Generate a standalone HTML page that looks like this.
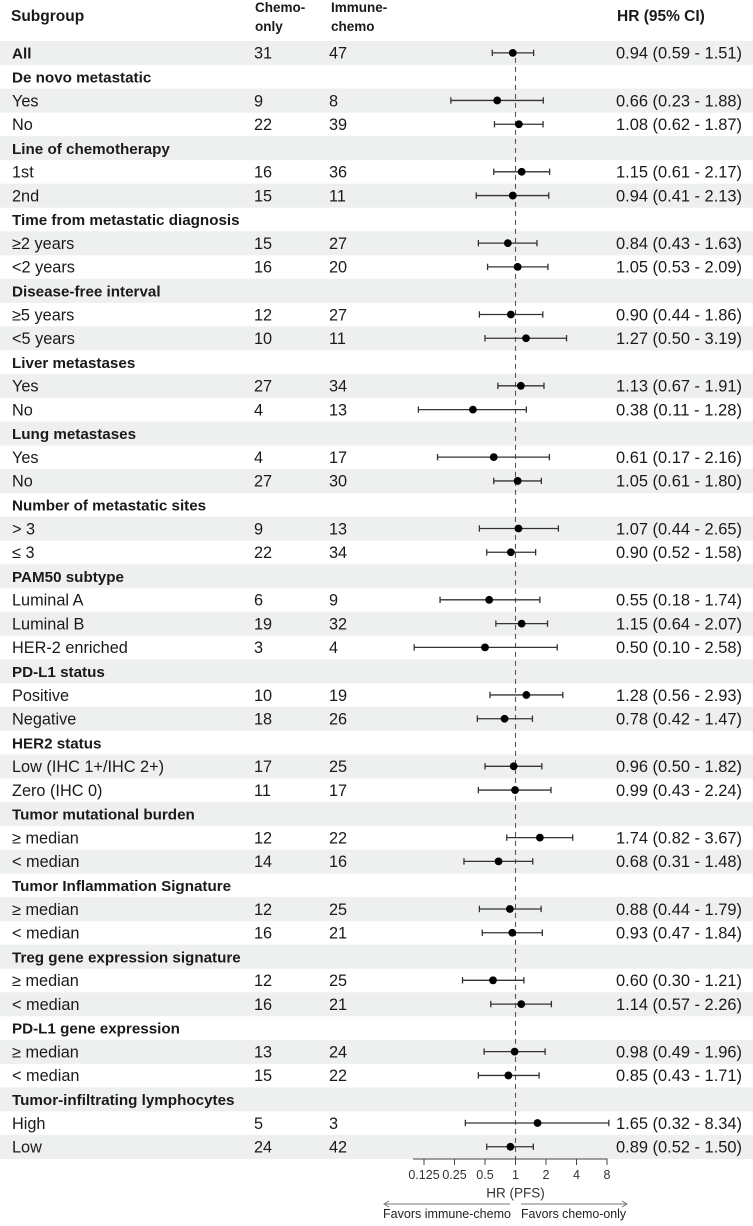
<!DOCTYPE html>
<html><head><meta charset="utf-8">
<style>
html,body{margin:0;padding:0;background:#fff;}
svg text{font-family:"Liberation Sans",Arial,sans-serif;}
</style></head>
<body>
<svg id="chart" width="753" height="1221" viewBox="0 0 753 1221" xmlns="http://www.w3.org/2000/svg">
<g id="stripes"></g>
<g id="header">
<text x="11" y="21" font-size="15.5" font-weight="bold" fill="#1a1a1a">Subgroup</text>
<text x="255" y="12" font-size="13.5" font-weight="bold" fill="#1a1a1a">Chemo-</text>
<text x="255" y="31" font-size="13.5" font-weight="bold" fill="#1a1a1a">only</text>
<text x="331" y="12" font-size="13.5" font-weight="bold" fill="#1a1a1a">Immune-</text>
<text x="331" y="31" font-size="13.5" font-weight="bold" fill="#1a1a1a">chemo</text>
<text x="617" y="21" font-size="15.5" font-weight="bold" fill="#1a1a1a">HR (95% CI)</text>
</g>
<g id="rows"></g>
<g id="axis"></g>
</svg>
<script>
const labels = ["All","De novo metastatic","Yes","No","Line of chemotherapy","1st","2nd","Time from metastatic diagnosis","≥2 years","<2 years","Disease-free interval","≥5 years","<5 years","Liver metastases","Yes","No","Lung metastases","Yes","No","Number of metastatic sites","> 3","≤ 3","PAM50 subtype","Luminal A","Luminal B","HER-2 enriched","PD-L1 status","Positive","Negative","HER2 status","Low (IHC 1+/IHC 2+)","Zero (IHC 0)","Tumor mutational burden","≥ median","< median","Tumor Inflammation Signature","≥ median","< median","Treg gene expression signature","≥ median","< median","PD-L1 gene expression","≥ median","< median","Tumor-infiltrating lymphocytes","High","Low"];
const isHeader = [1,1,0,0,1,0,0,1,0,0,1,0,0,1,0,0,1,0,0,1,0,0,1,0,0,0,1,0,0,1,0,0,1,0,0,1,0,0,1,0,0,1,0,0,1,0,0];
const chemoN = [31,null,9,22,null,16,15,null,15,16,null,12,10,null,27,4,null,4,27,null,9,22,null,6,19,3,null,10,18,null,17,11,null,12,14,null,12,16,null,12,16,null,13,15,null,5,24];
const immuneN = [47,null,8,39,null,36,11,null,27,20,null,27,11,null,34,13,null,17,30,null,13,34,null,9,32,4,null,19,26,null,25,17,null,22,16,null,25,21,null,25,21,null,24,22,null,3,42];
const hr = [0.94,null,0.66,1.08,null,1.15,0.94,null,0.84,1.05,null,0.90,1.27,null,1.13,0.38,null,0.61,1.05,null,1.07,0.90,null,0.55,1.15,0.50,null,1.28,0.78,null,0.96,0.99,null,1.74,0.68,null,0.88,0.93,null,0.60,1.14,null,0.98,0.85,null,1.65,0.89];
const lower = [0.59,null,0.23,0.62,null,0.61,0.41,null,0.43,0.53,null,0.44,0.50,null,0.67,0.11,null,0.17,0.61,null,0.44,0.52,null,0.18,0.64,0.10,null,0.56,0.42,null,0.50,0.43,null,0.82,0.31,null,0.44,0.47,null,0.30,0.57,null,0.49,0.43,null,0.32,0.52];
const upper = [1.51,null,1.88,1.87,null,2.17,2.13,null,1.63,2.09,null,1.86,3.19,null,1.91,1.28,null,2.16,1.80,null,2.65,1.58,null,1.74,2.07,2.58,null,2.93,1.47,null,1.82,2.24,null,3.67,1.48,null,1.79,1.84,null,1.21,2.26,null,1.96,1.71,null,8.34,1.50];
const tickValues = [0.125,0.25,0.5,1,2,4,8];
const tickLabels = ["0.125","0.25","0.5","1","2","4","8"];

const NS="http://www.w3.org/2000/svg";
const X0=515.5, PER=30.5, ROW0=41, ROWH=23.78;
function xs(v){return X0+Math.log2(v)*PER;}
function yc(i){return ROW0+i*ROWH+ROWH/2;}
function mk(tag,attrs,parent){const e=document.createElementNS(NS,tag);for(const k in attrs)e.setAttribute(k,attrs[k]);parent.appendChild(e);return e;}
const stripes=document.getElementById('stripes'), rows=document.getElementById('rows'), axis=document.getElementById('axis');
const n=labels.length;
for(let i=0;i<n;i++){
  if(i%2===0){
    const r=mk('rect',{x:0,y:ROW0+i*ROWH,width:753,height:ROWH+0.3,fill:'#eef0ef'},stripes);
    
    
  }
  const y=yc(i)+5.8;
  const t=mk('text',{x:12,y:y,'font-size':isHeader[i]?15.2:16.3,fill:'#1a1a1a','font-weight':isHeader[i]?'bold':'normal'},rows);
  t.textContent=labels[i];
  
  
  if(chemoN[i]!==null){
    const c=mk('text',{x:254,y:y,'font-size':16.3,fill:'#1a1a1a'},rows);c.textContent=chemoN[i];
    
    
    const m=mk('text',{x:329,y:y,'font-size':16.3,fill:'#1a1a1a'},rows);m.textContent=immuneN[i];
    
    
    const h=mk('text',{x:616,y:y,'font-size':16.3,fill:'#1a1a1a',textLength:126,lengthAdjust:'spacingAndGlyphs'},rows);
    h.textContent=hr[i].toFixed(2)+' ('+lower[i].toFixed(2)+' - '+upper[i].toFixed(2)+')';
    
    
  }
}
const ref=mk('line',{x1:X0,x2:X0,y1:yc(0)+5,y2:1159,stroke:'#555','stroke-width':1.1,'stroke-dasharray':'5,4'},rows);


for(let i=0;i<n;i++){
  if(hr[i]===null)continue;
  const yy=yc(i);
  const g=mk('g',{},rows);
  
  
  mk('line',{x1:xs(lower[i]),x2:xs(upper[i]),y1:yy,y2:yy,stroke:'#333','stroke-width':1.3},g);
  mk('line',{x1:xs(lower[i]),x2:xs(lower[i]),y1:yy-3.2,y2:yy+3.2,stroke:'#333','stroke-width':1.3},g);
  mk('line',{x1:xs(upper[i]),x2:xs(upper[i]),y1:yy-3.2,y2:yy+3.2,stroke:'#333','stroke-width':1.3},g);
  const p=mk('circle',{cx:xs(hr[i]),cy:yy,r:3.9,fill:'#000'},g);
  
  
}
const al=mk('line',{x1:413,x2:xs(8)+0.5,y1:1159,y2:1159,stroke:'#444','stroke-width':1},axis);


for(let k=0;k<tickValues.length;k++){
  const x=xs(tickValues[k]);
  const tk=mk('line',{x1:x,x2:x,y1:1159,y2:1165,stroke:'#444','stroke-width':1},axis);
  
  
  const tl=mk('text',{x:x,y:1179,'font-size':12.5,'text-anchor':'middle',fill:'#333'},axis);
  tl.textContent=tickLabels[k];
  
  
}
const at=mk('text',{x:X0,y:1197.5,'font-size':13.5,'text-anchor':'middle',fill:'#333'},axis);
at.textContent='HR (PFS)';


const la=mk('path',{d:'M510,1204 H384 M389,1201 L384,1204 L389,1207',stroke:'#777',fill:'none','stroke-width':1},axis);


const ra=mk('path',{d:'M521,1204 H627 M622,1201 L627,1204 L622,1207',stroke:'#777',fill:'none','stroke-width':1},axis);


const lt=mk('text',{x:383,y:1218,'font-size':13,fill:'#222',textLength:128,lengthAdjust:'spacingAndGlyphs'},axis);
lt.textContent='Favors immune-chemo';


const rt=mk('text',{x:521,y:1218,'font-size':13,fill:'#222',textLength:105,lengthAdjust:'spacingAndGlyphs'},axis);
rt.textContent='Favors chemo-only';


</script>
</body></html>
